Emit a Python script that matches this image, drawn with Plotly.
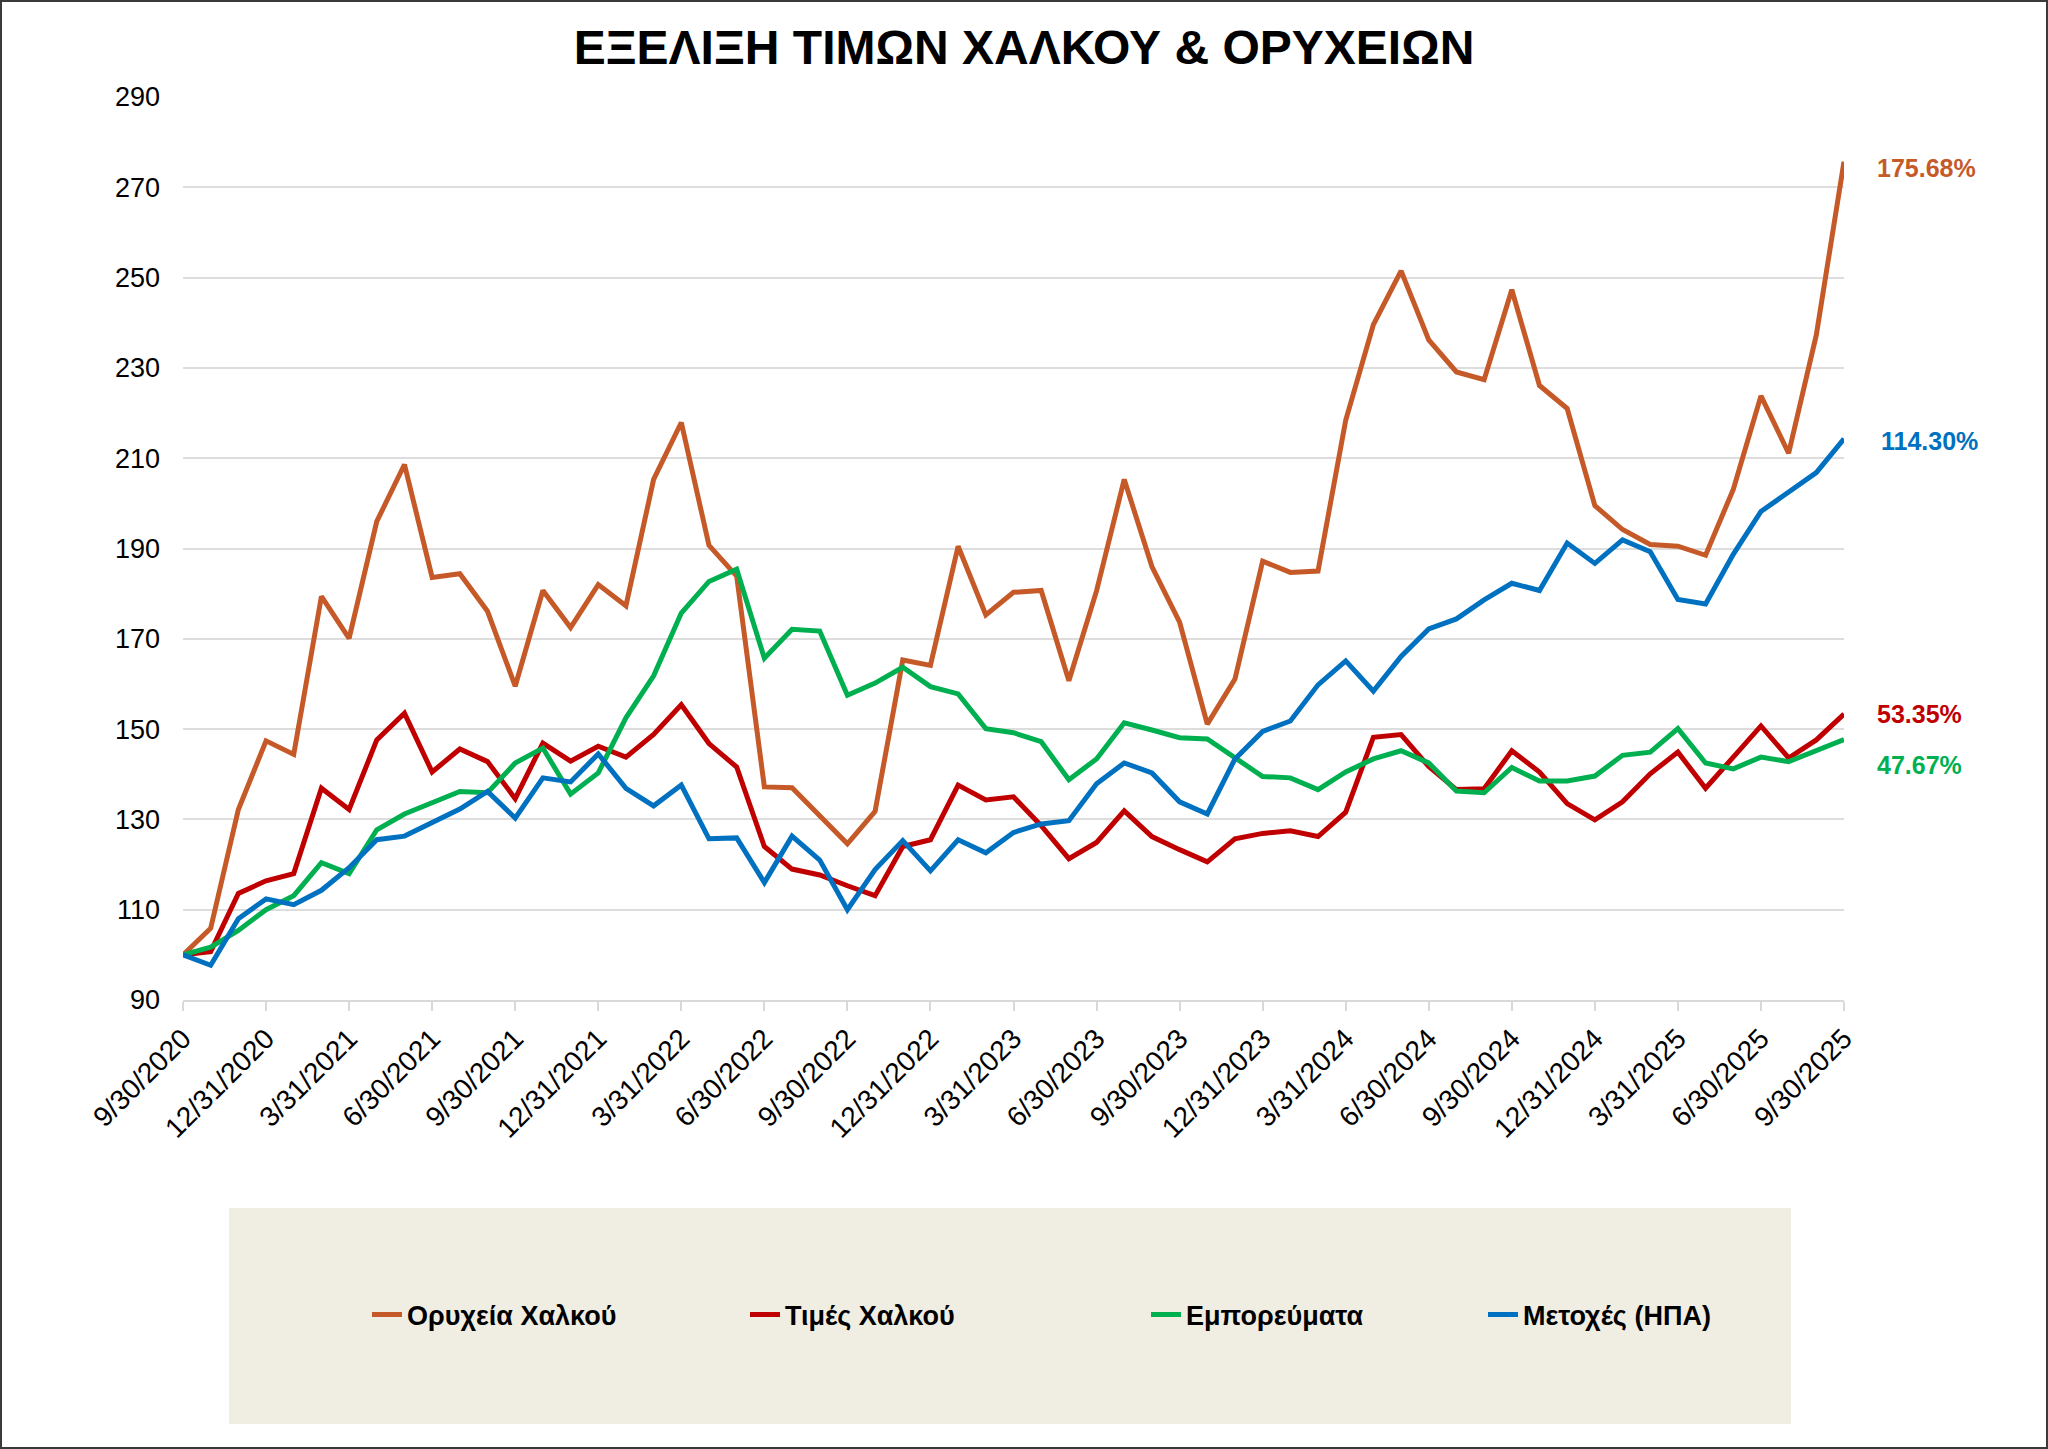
import pandas as pd
import plotly.graph_objects as go

# ---------------- data ----------------
dates = pd.date_range("2020-09-30", periods=61, freq="ME")
categories = [f"{d.month}/{d.day}/{d.year}" for d in dates]
tick_labels = categories[::3]

mines = [100, 105.9, 132.2, 147.4, 144.4, 179.4, 170.1, 196.0, 208.6, 183.6, 184.4,
         176.1, 159.5, 180.7, 172.5, 182.0, 177.3, 205.3, 217.9, 190.7, 183.9,
         137.2, 137.0, 130.8, 124.6, 131.8, 165.3, 164.1, 190.5, 175.3, 180.3,
         180.7, 160.7, 180.6, 205.3, 186.0, 173.7, 151.1, 161.1, 187.2, 184.7,
         185.0, 218.4, 239.6, 251.5, 236.2, 229.1, 227.4, 247.3, 226.1, 221.0,
         199.5, 194.2, 190.9, 190.5, 188.5, 203.1, 223.8, 211.1, 237.3, 275.68]

copper = [100, 100.7, 113.6, 116.4, 118.0, 136.9, 132.2, 147.6, 153.5, 140.5, 145.6,
          142.8, 134.6, 146.9, 142.9, 146.2, 143.8, 148.8, 155.4, 146.8, 141.6,
          124.0, 119.0, 117.7, 115.3, 113.1, 124.0, 125.5, 137.6, 134.3, 135.0,
          128.6, 121.3, 124.9, 131.9, 126.2, 123.3, 120.6, 125.7, 126.9, 127.5,
          126.2, 131.6, 148.2, 148.8, 141.7, 136.6, 136.8, 145.2, 140.5, 133.5,
          129.9, 133.9, 140.1, 144.9, 136.9, 143.8, 150.7, 143.6, 147.6, 153.35]

commodities = [100, 101.7, 105.4, 110.0, 113.1, 120.4, 118.0, 127.7, 131.2, 133.6, 136.2,
               135.9, 142.5, 145.8, 135.6, 140.3, 152.5, 161.8, 175.7, 182.7, 185.4,
               165.7, 172.1, 171.7, 157.5, 160.2, 163.7, 159.4, 157.8, 150.1, 149.2,
               147.2, 138.8, 143.4, 151.4, 149.8, 148.1, 147.8, 143.8, 139.5, 139.2,
               136.6, 140.5, 143.4, 145.2, 142.5, 136.3, 135.9, 141.5, 138.5, 138.5,
               139.6, 144.2, 144.9, 150.1, 142.5, 141.2, 143.8, 142.8, 145.2, 147.67]

stocks = [100, 97.7, 108.0, 112.4, 111.1, 114.3, 119.3, 125.5, 126.3, 129.3, 132.3,
          136.2, 130.3, 139.2, 138.3, 144.5, 136.9, 133.0, 137.6, 125.7, 125.9,
          116.0, 126.3, 121.0, 110.0, 118.9, 125.3, 118.6, 125.5, 122.6, 127.1,
          129.0, 129.7, 137.9, 142.5, 140.3, 133.9, 131.2, 143.4, 149.5, 151.8,
          159.8, 165.1, 158.4, 166.1, 172.2, 174.4, 178.6, 182.3, 180.7, 191.2,
          186.7, 191.9, 189.3, 178.7, 177.7, 188.7, 198.2, 202.6, 206.8, 214.3]

series_names = ["Ορυχεία Χαλκού", "Τιμές Χαλκού", "Εμπορεύματα", "Μετοχές (ΗΠΑ)"]
series_values = [mines, copper, commodities, stocks]
colors = ["#C55A28", "#C00000", "#00B050", "#0070C0"]
title_text = "ΕΞΕΛΙΞΗ ΤΙΜΩΝ ΧΑΛΚΟΥ & ΟΡΥΧΕΙΩΝ"

# ---------------- layout geometry ----------------
W, H = 2048, 1449
L, R, T, B = 183, 1844, 97, 1000
pw, ph = R - L, B - T


def px_x(px):
    return (px - L) / pw


def px_y(py):
    return (B - py) / ph


FONT = "Liberation Sans, Arial, sans-serif"

fig = go.Figure()
legend_ids = ["legend", "legend2", "legend3", "legend4"]
for name, vals, col, lg in zip(series_names, series_values, colors, legend_ids):
    fig.add_trace(go.Scatter(x=categories, y=vals, mode="lines", name=name,
                             line=dict(color=col, width=5), legend=lg,
                             showlegend=True, hoverinfo="skip"))

# end-of-line labels (order: mines, copper, commodities, stocks)
label_shift = [-6, 0, -25, -2]
label_px = [1875, 1875, 1875, 1879]
annotations = []
for vals, col, ys, lx in zip(series_values, colors, label_shift, label_px):
    annotations.append(dict(
        x=px_x(lx), xref="paper", y=vals[-1], yref="y", yshift=ys,
        text=f"{vals[-1] - 100:.2f}%", showarrow=False, xanchor="left",
        yanchor="middle", font=dict(family=FONT, size=25, color=col, weight="bold")))

shapes = [
    dict(type="rect", xref="paper", yref="paper", layer="below",
         x0=px_x(229), x1=px_x(1791), y0=px_y(1424), y1=px_y(1208),
         fillcolor="#F0EEE3", line=dict(width=0)),
    dict(type="rect", xref="paper", yref="paper", layer="above",
         x0=px_x(1), x1=px_x(W - 1), y0=px_y(H - 1), y1=px_y(1),
         fillcolor="rgba(0,0,0,0)", line=dict(color="#3A3A3A", width=2)),
]

legend_text_px = [407, 785, 1186, 1523]
legend_common = dict(orientation="h", yanchor="middle", y=px_y(1315), xanchor="left",
                     bgcolor="rgba(0,0,0,0)", borderwidth=0,
                     font=dict(family=FONT, size=27, color="#000000", weight="bold"))
legends = {}
for lg, tx in zip(legend_ids, legend_text_px):
    legends[lg] = dict(legend_common, x=px_x(tx - 40))

fig.update_layout(
    width=W, height=H,
    margin=dict(l=L, r=W - R, t=T, b=H - B),
    paper_bgcolor="white", plot_bgcolor="white",
    showlegend=True,
    title=dict(text=title_text, x=0.5, xref="container", xanchor="center",
               y=1 - 47 / H, yref="container", yanchor="middle",
               font=dict(family=FONT, size=48, color="#000000", weight="bold")),
    annotations=annotations, shapes=shapes,
    **legends,
)

fig.update_xaxes(type="category", range=[0, len(categories) - 1],
                 tickmode="array", tickvals=tick_labels, ticktext=tick_labels,
                 tickangle=-45, ticks="outside", ticklen=9, tickwidth=2,
                 tickcolor="#D9D9D9", showline=True, linecolor="#D9D9D9", linewidth=2,
                 showgrid=False, zeroline=False,
                 tickfont=dict(family=FONT, size=28, color="#000000"))
fig.update_yaxes(range=[90, 290], dtick=20, tick0=90, showgrid=True,
                 gridcolor="#DDDDDD", gridwidth=1.6, zeroline=False, showline=False,
                 ticks="", ticklabelstandoff=22,
                 tickfont=dict(family=FONT, size=27, color="#000000"))

fig.write_html("out.html", config={"displayModeBar": False},
               post_script="document.body.style.margin='0';")
